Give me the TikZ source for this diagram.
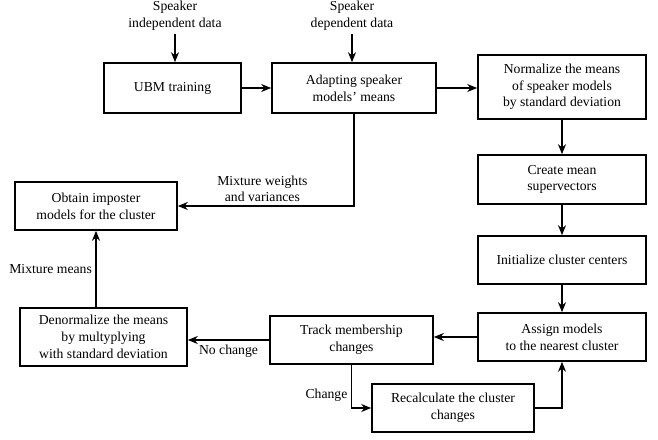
\documentclass[tikz,border=0pt]{standalone}
\usepackage{fontspec}
\setmainfont{Liberation Serif}
\usetikzlibrary{arrows.meta}
\tikzstyle{every node}=[font=\fontsize{13.7}{16.7}\selectfont]
\tikzstyle{block}=[draw, line width=1.6pt, align=center, inner sep=0pt]
\tikzstyle{arrow}=[draw, line width=1.6pt, -{Stealth[length=10pt,width=8pt]}]

\begin{document}
\begin{tikzpicture}[x=1pt, y=-1pt]
\useasboundingbox (0,0) rectangle (658,439);

% top row
\node[align=center] (indata) at (175,16) {Speaker\\independent data};
\node[align=center] (depdata) at (352,16) {Speaker\\dependent data};
\node[block, minimum width=137pt, minimum height=50pt] (ubm) at (172.5,88) {UBM training};
\node[block, minimum width=164pt, minimum height=50pt] (adapt) at (354,88) {Adapting speaker\\models' means};
\node[block, minimum width=168pt, minimum height=64pt] (norm) at (562,87) {Normalize the means\\of speaker models\\by standard deviation};
% right column
\node[block, minimum width=168pt, minimum height=49pt] (create) at (562,179.5) {Create mean\\supervectors};
\node[block, minimum width=168pt, minimum height=48pt] (init) at (562,260) {Initialize cluster centers};
\node[block, minimum width=168pt, minimum height=48pt] (assign) at (562,337) {Assign models\\to the nearest cluster};
% bottom and left
\node[block, minimum width=163pt, minimum height=48pt] (track) at (351.5,340) {Track membership\\changes};
\node[block, minimum width=162pt, minimum height=48pt] (recalc) at (453,408) {Recalculate the cluster\\changes};
\node[block, minimum width=167pt, minimum height=58pt] (denorm) at (103.5,337) {Denormalize the means\\by multyplying\\with standard deviation};
\node[block, minimum width=162pt, minimum height=48pt] (obtain) at (96,206) {Obtain imposter\\models for the cluster};

\draw[arrow] (indata.south) -- (indata.south |- ubm.north);
\draw[arrow] (depdata.south) -- (depdata.south |- adapt.north);
\draw[arrow] (ubm) -- (adapt);
\draw[arrow] (adapt) -- (adapt -| norm.west);
\draw[arrow] (norm) -- (create);
\draw[arrow] (create) -- (init);
\draw[arrow] (init) -- (assign);
\draw[arrow] (assign.west) -- (track.east |- assign.west);
\draw[arrow] (track.west) -- node[below, yshift=-1pt] {No change} (denorm.east |- track.west);
\draw[arrow] (track.south) |- node[left, pos=0.35] {Change} (recalc.west);
\draw[arrow] (recalc.east) -| (assign.south);
\draw[arrow] (obtain.south |- denorm.north) -- node[left] {Mixture means} (obtain.south);
\draw[arrow] (adapt.south) |- node[above, pos=0.76, align=center] {Mixture weights\\and variances} (obtain.east);
\end{tikzpicture}
\end{document}
